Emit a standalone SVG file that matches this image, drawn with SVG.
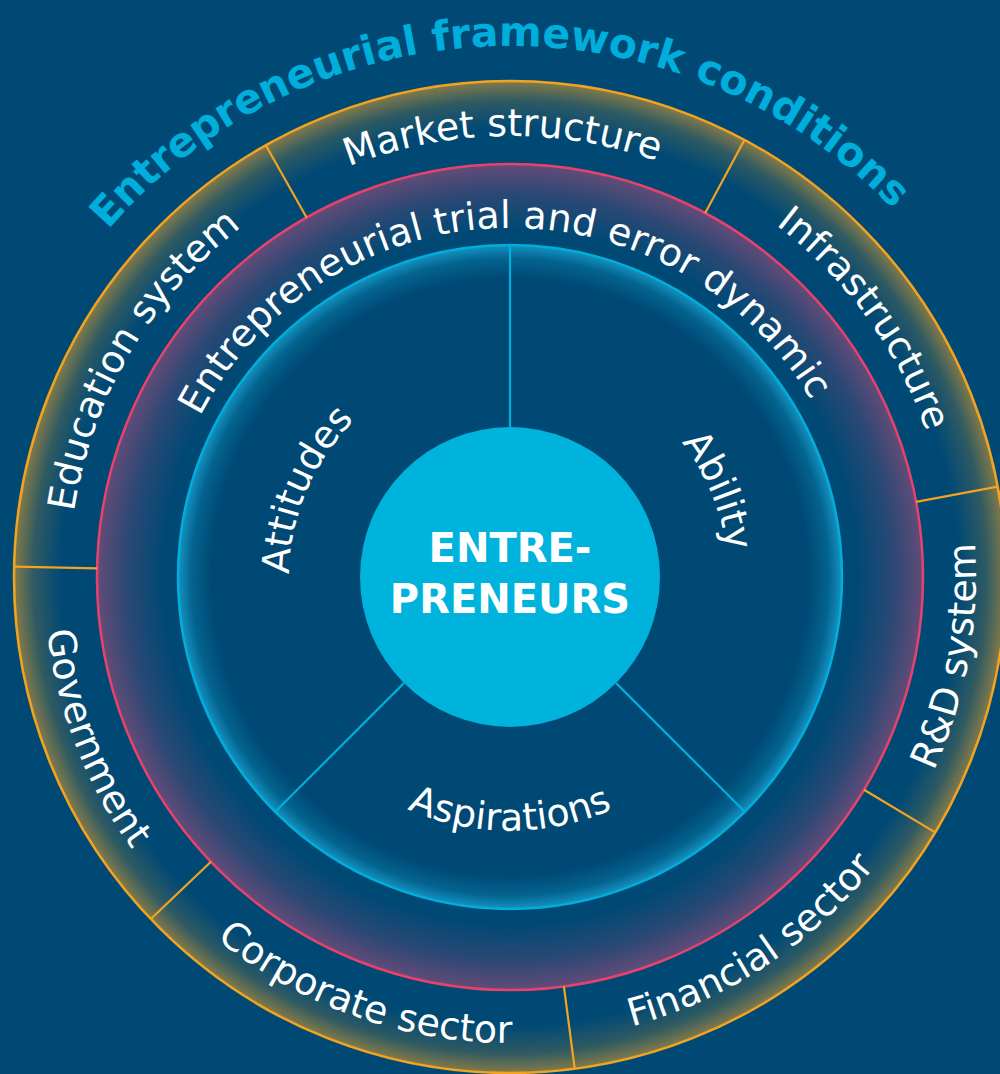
<svg xmlns="http://www.w3.org/2000/svg" width="1000" height="1074" viewBox="0 0 1000 1074">
<style>
.lbl{font-family:"DejaVu Sans","Liberation Sans",sans-serif;font-size:38px;fill:#ffffff}
.title{font-family:"DejaVu Sans","Liberation Sans",sans-serif;font-weight:bold;font-size:41px;fill:#00aedb}
.ctr{font-family:"DejaVu Sans","Liberation Sans",sans-serif;font-weight:bold;font-size:40px;fill:#ffffff;text-anchor:middle}
.odiv{stroke:#f4a320;stroke-width:2.2;fill:none}
.idiv{stroke:#00aedb;stroke-width:2.2;fill:none}
</style>
<defs>
<radialGradient id="gOuter" cx="510" cy="577" r="496" gradientUnits="userSpaceOnUse">
<stop offset="0.905" stop-color="#004975"/>
<stop offset="0.96" stop-color="#2f5a62"/>
<stop offset="1" stop-color="#837a48"/>
</radialGradient>
<radialGradient id="gPink" cx="510" cy="577" r="413" gradientUnits="userSpaceOnUse">
<stop offset="0.84" stop-color="#004975"/>
<stop offset="0.93" stop-color="#2c4874"/>
<stop offset="1" stop-color="#634b78"/>
</radialGradient>
<radialGradient id="gInner" cx="510" cy="577" r="332" gradientUnits="userSpaceOnUse">
<stop offset="0.9" stop-color="#004975"/>
<stop offset="0.96" stop-color="#03648f"/>
<stop offset="1" stop-color="#1592c2"/>
</radialGradient>
<path id="pTitle" d="M -15.2 498.5 A 531 531 0 0 1 1030.3 471.1"/>
<path id="pMarket" d="M 74.4 508 A 441 441 0 0 1 942.9 492.9"/>
<path id="pInfra" d="M 316 181 A 441 441 0 0 1 827.8 882.8"/>
<path id="pRD" d="M 508.4 1043 A 466 466 0 0 0 670.9 139.7"/>
<path id="pFin" d="M 171.3 896.8 A 466 466 0 0 0 937.7 391.9"/>
<path id="pCorp" d="M 50.3 500.9 A 466 466 0 0 0 916 805.8"/>
<path id="pGov" d="M 268.6 178.4 A 466 466 0 0 0 600.5 1034.1"/>
<path id="pEdu" d="M 223.6 912.3 A 441 441 0 0 1 664.4 163.9"/>
<path id="pTrial" d="M 164.8 525.4 A 349 349 0 0 1 852 507.4"/>
<path id="pAtt" d="M 389.6 762.3 A 221 221 0 0 1 559.7 361.7"/>
<path id="pAbi" d="M 462.8 364.2 A 218 218 0 0 1 627.1 760.9"/>
<path id="pAsp" d="M 259.9 621.1 A 254 254 0 0 0 760.1 621.1"/>
</defs>
<rect x="0" y="0" width="1000" height="1074" fill="#004975"/>

<g id="framework-ring">
<circle cx="510" cy="577" r="496" fill="url(#gOuter)" stroke="#f4a320" stroke-width="2.5"/>
</g>
<g id="trial-error-ring">
<circle cx="510" cy="577" r="413" fill="url(#gPink)" stroke="#e8426c" stroke-width="2.5"/>
</g>
<g id="inner-ring">
<circle cx="510" cy="577" r="332" fill="url(#gInner)" stroke="#00aedb" stroke-width="2.5"/>
</g>

<g id="dividers">
<line class="odiv" x1="306.6" y1="217.5" x2="265.8" y2="145.3"/>
<line class="odiv" x1="705.2" y1="213" x2="744.4" y2="139.9"/>
<line class="odiv" x1="916.1" y1="501.8" x2="997.7" y2="486.6"/>
<line class="odiv" x1="864" y1="789.7" x2="935.2" y2="832.4"/>
<line class="odiv" x1="563.9" y1="986.4" x2="574.7" y2="1068.7"/>
<line class="odiv" x1="210.9" y1="861.8" x2="150.8" y2="919"/>
<line class="odiv" x1="97.1" y1="568.4" x2="14.1" y2="566.6"/>
<line class="idiv" x1="510" y1="427" x2="510" y2="245"/>
<line class="idiv" x1="616.1" y1="683.1" x2="744.8" y2="811.8"/>
<line class="idiv" x1="403.9" y1="683.1" x2="275.2" y2="811.8"/>
</g>

<g id="title">
<text class="title" text-anchor="middle"><textPath href="#pTitle" startOffset="50%">Entrepreneurial framework conditions</textPath></text>
</g>
<g id="market-structure"><text class="lbl" text-anchor="middle"><textPath href="#pMarket" startOffset="50%">Market structure</textPath></text></g>
<g id="infrastructure"><text class="lbl" text-anchor="middle"><textPath href="#pInfra" startOffset="50%">Infrastructure</textPath></text></g>
<g id="rd-system"><text class="lbl" text-anchor="middle"><textPath href="#pRD" startOffset="50%">R&amp;D system</textPath></text></g>
<g id="financial-sector"><text class="lbl" text-anchor="middle"><textPath href="#pFin" startOffset="50%">Financial sector</textPath></text></g>
<g id="corporate-sector"><text class="lbl" text-anchor="middle"><textPath href="#pCorp" startOffset="50%">Corporate sector</textPath></text></g>
<g id="government"><text class="lbl" text-anchor="middle"><textPath href="#pGov" startOffset="50%">Government</textPath></text></g>
<g id="education-system"><text class="lbl" text-anchor="middle"><textPath href="#pEdu" startOffset="50%">Education system</textPath></text></g>
<g id="trial-error"><text class="lbl" text-anchor="middle"><textPath href="#pTrial" startOffset="50%">Entrepreneurial trial and error dynamic</textPath></text></g>
<g id="attitudes"><text class="lbl" text-anchor="middle"><textPath href="#pAtt" startOffset="50%">Attitudes</textPath></text></g>
<g id="ability"><text class="lbl" text-anchor="middle"><textPath href="#pAbi" startOffset="50%">Ability</textPath></text></g>
<g id="aspirations"><text class="lbl" text-anchor="middle"><textPath href="#pAsp" startOffset="50%">Aspirations</textPath></text></g>

<g id="entrepreneurs">
<circle cx="510" cy="577" r="150" fill="#00b3dc"/>
<text class="ctr" x="510" y="562">ENTRE-</text>
<text class="ctr" x="510" y="613">PRENEURS</text>
</g>
</svg>
